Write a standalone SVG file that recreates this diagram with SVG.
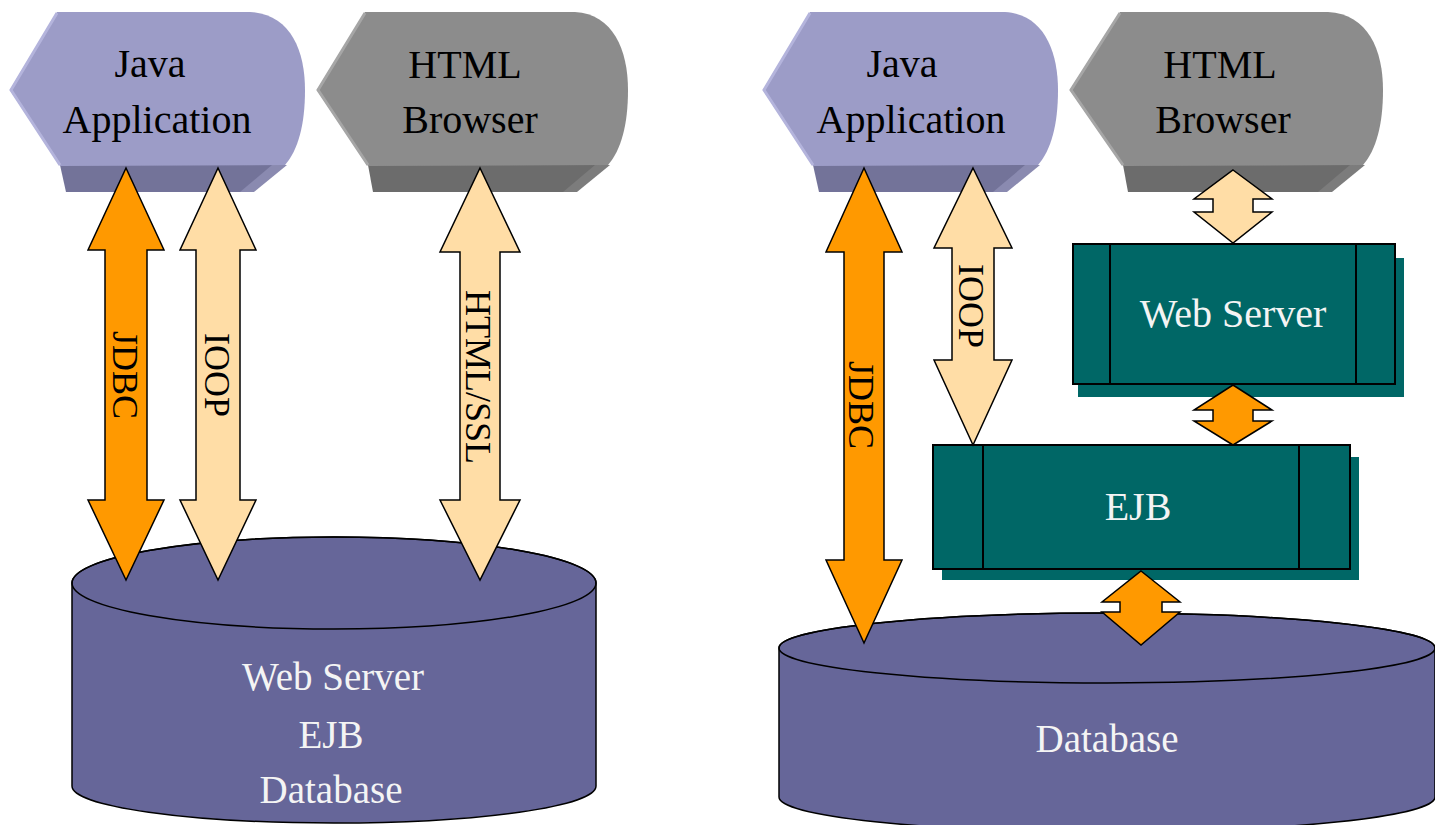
<svg xmlns="http://www.w3.org/2000/svg" width="1435" height="825" viewBox="0 0 1435 825">
<style>
.lav{fill:#9c9cc7}.lavb{fill:#737399}.lavc{fill:#8a8ab0}.lavh{fill:none;stroke:#b4b4dc;stroke-width:3}
.gry{fill:#8c8c8c}.gryb{fill:#6c6c6c}.gryc{fill:#7c7c7c}.gryh{fill:none;stroke:#a6a6a6;stroke-width:3}
.lbl{font-family:"Liberation Serif","Times New Roman",serif;font-size:40px;fill:#000;text-anchor:middle}
.wl{font-family:"Liberation Serif","Times New Roman",serif;font-size:39px;fill:#f4f4f4;text-anchor:middle}
.wl40{font-family:"Liberation Serif","Times New Roman",serif;font-size:40px;fill:#f4f4f4;text-anchor:middle}
.rot{font-family:"Liberation Serif","Times New Roman",serif;font-size:36px;fill:#000;text-anchor:middle}
.cyl{fill:#666699;stroke:#000;stroke-width:1.5}
.cylt{fill:none;stroke:#000;stroke-width:1.5}
.box{fill:#006766;stroke:#000;stroke-width:2}
.shd{fill:#006766}
.ln{stroke:#000;stroke-width:2}
.or{fill:#ff9900;stroke:#000;stroke-width:1.5;stroke-linejoin:miter}
.pe{fill:#ffdda6;stroke:#000;stroke-width:1.5;stroke-linejoin:miter}
</style>

<!-- Left cylinder -->
<g id="cyl-left">
<path class="cyl" d="M72,583 A262,46 0 0 1 596,583 L596,786 A262,37 0 0 1 72,786 Z"/>
<ellipse class="cylt" cx="334" cy="583" rx="262" ry="46"/>
<text class="wl" x="333" y="690">Web Server</text>
<text class="wl" x="331" y="748">EJB</text>
<text class="wl" x="331" y="803">Database</text>
</g>

<!-- Right cylinder -->
<g id="cyl-right">
<path class="cyl" d="M779,648 A328,35 0 0 1 1435,648 L1435,797 A328,35 0 0 1 779,797 Z"/>
<ellipse class="cylt" cx="1107" cy="648" rx="328" ry="35"/>
<text class="wl" x="1107" y="752">Database</text>
</g>

<!-- Left Java Application -->
<g id="java-left">
<path class="lavb" d="M60,165 L285,165 L252,192 L66,192 Z"/>
<path class="lavc" d="M272,165 L287,165 L254,192 L240,192 Z"/>
<path class="lav" d="M57,12 L250,12 C290,14 305,50 305,90 C305,125 298,150 285,165 L60,166 L10,90 Z"/>
<path class="lavh" d="M57,13 L11,90 L60,165"/>
<text class="lbl" x="150" y="77">Java</text>
<text class="lbl" x="157" y="133">Application</text>
</g>

<!-- Left HTML Browser -->
<g id="html-left">
<path class="gryb" d="M368,165 L608,165 L575,192 L373,192 Z"/>
<path class="gryc" d="M595,165 L610,165 L577,192 L563,192 Z"/>
<path class="gry" d="M365,12 L575,12 C613,14 628,50 628,90 C628,125 621,150 608,165 L368,166 L317,90 Z"/>
<path class="gryh" d="M365,13 L318,90 L368,165"/>
<text class="lbl" x="465" y="78">HTML</text>
<text class="lbl" x="470" y="133">Browser</text>
</g>

<!-- Right Java Application -->
<g id="java-right">
<path class="lavb" d="M813,165 L1038,165 L1005,192 L819,192 Z"/>
<path class="lavc" d="M1025,165 L1040,165 L1007,192 L993,192 Z"/>
<path class="lav" d="M810,12 L1005,12 C1043,14 1058,50 1058,90 C1058,125 1051,150 1038,165 L813,166 L763,90 Z"/>
<path class="lavh" d="M810,13 L764,90 L813,165"/>
<text class="lbl" x="902" y="77">Java</text>
<text class="lbl" x="911" y="133">Application</text>
</g>

<!-- Right HTML Browser -->
<g id="html-right">
<path class="gryb" d="M1123,165 L1363,165 L1330,192 L1128,192 Z"/>
<path class="gryc" d="M1350,165 L1365,165 L1332,192 L1318,192 Z"/>
<path class="gry" d="M1120,12 L1328,12 C1368,14 1383,50 1383,90 C1383,125 1376,150 1363,165 L1123,166 L1070,90 Z"/>
<path class="gryh" d="M1120,13 L1071,90 L1123,165"/>
<text class="lbl" x="1220" y="78">HTML</text>
<text class="lbl" x="1223" y="133">Browser</text>
</g>

<!-- Web Server box -->
<g id="webserver">
<rect class="shd" x="1078" y="258" width="326" height="139"/>
<rect class="box" x="1073" y="244" width="322" height="140"/>
<line class="ln" x1="1110" y1="244" x2="1110" y2="384"/>
<line class="ln" x1="1356" y1="244" x2="1356" y2="384"/>
<text class="wl40" x="1233" y="327">Web Server</text>
</g>

<!-- EJB box -->
<g id="ejb">
<rect class="shd" x="942" y="457" width="417" height="123"/>
<rect class="box" x="933" y="445" width="417" height="124"/>
<line class="ln" x1="983" y1="445" x2="983" y2="569"/>
<line class="ln" x1="1299" y1="445" x2="1299" y2="569"/>
<text class="wl40" x="1138" y="520">EJB</text>
</g>

<!-- Connectors -->
<g id="connectors">
<path class="or" d="M126,168 L164,250 L147,250 L147,500 L164,500 L126,580 L88,500 L105,500 L105,250 L88,250 Z"/>
<path class="pe" d="M218,168 L256,250 L240,250 L240,500 L256,500 L218,580 L180,500 L196,500 L196,250 L180,250 Z"/>
<path class="pe" d="M480,168 L520,252 L500,252 L500,500 L520,500 L480,580 L440,500 L460,500 L460,252 L440,252 Z"/>
<path class="or" d="M864,168 L902,252 L884,252 L884,560 L902,560 L864,643 L826,560 L844,560 L844,252 L826,252 Z"/>
<path class="pe" d="M973,168 L1012,248 L994,248 L994,360 L1012,360 L973,445 L934,360 L952,360 L952,248 L934,248 Z"/>
<path class="pe" d="M1233,170 L1272,199 L1253,199 L1253,212 L1272,212 L1233,243 L1194,212 L1213,212 L1213,199 L1194,199 Z"/>
<path class="or" d="M1233,385 L1272,410 L1253,410 L1253,421 L1272,421 L1233,445 L1194,421 L1213,421 L1213,410 L1194,410 Z"/>
<path class="or" d="M1141,571 L1180,602 L1162,602 L1162,612 L1180,612 L1141,645 L1102,612 L1120,612 L1120,602 L1102,602 Z"/>
<text class="rot" transform="translate(125,375) rotate(90)" y="12">JDBC</text>
<text class="rot" transform="translate(217,375) rotate(90)" y="12">IOOP</text>
<text class="rot" transform="translate(478,377) rotate(90)" y="12">HTML/SSL</text>
<text class="rot" transform="translate(861,405) rotate(90)" y="12">JDBC</text>
<text class="rot" transform="translate(971,306) rotate(90)" y="12">IOOP</text>
</g>
</svg>
